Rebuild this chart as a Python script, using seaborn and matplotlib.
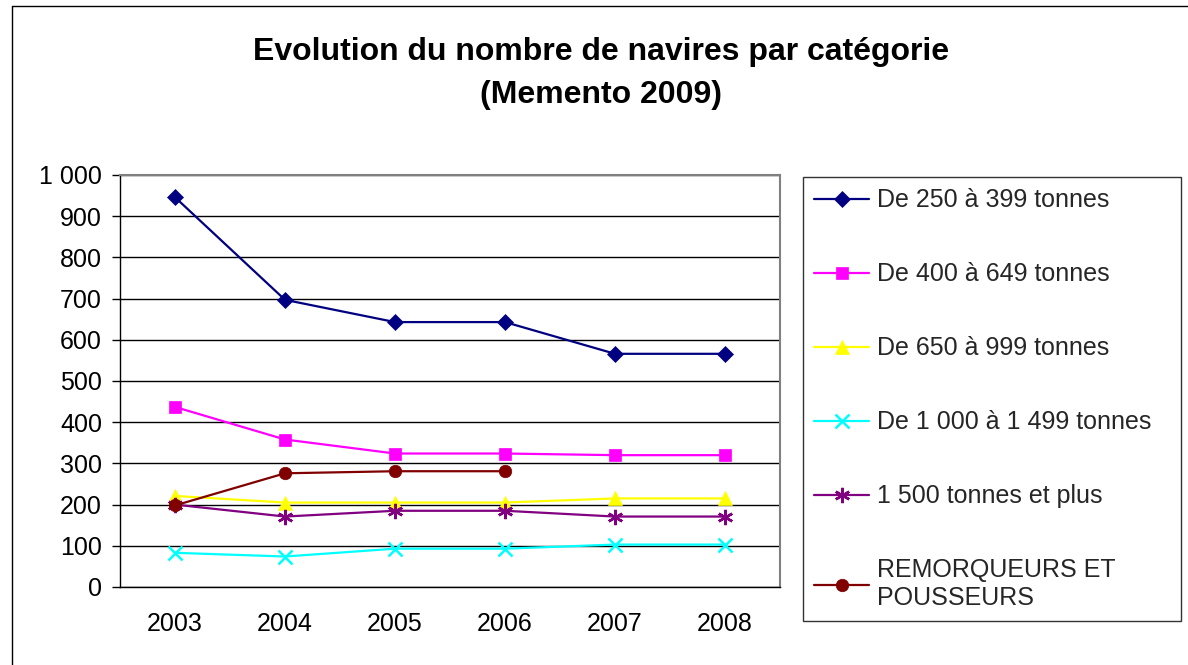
import numpy as np
import pandas as pd
import matplotlib
matplotlib.use("Agg")
import matplotlib.pyplot as plt
from matplotlib.lines import Line2D
from matplotlib.ticker import FuncFormatter, FixedLocator
import seaborn as sns

years = ["2003", "2004", "2005", "2006", "2007", "2008"]
s_250_399 = [946, 697, 643, 643, 566, 566]
s_400_649 = [437, 358, 324, 324, 320, 320]
s_650_999 = [221, 205, 205, 205, 215, 215]
s_1000_1499 = [83, 74, 93, 93, 103, 103]
s_1500_plus = [200, 171, 185, 185, 171, 171]
s_remorqueurs = [198, 276, 281, 281, np.nan, np.nan]

labels = ["De 250 à 399 tonnes", "De 400 à 649 tonnes", "De 650 à 999 tonnes",
          "De 1 000 à 1 499 tonnes", "1 500 tonnes et plus",
          "REMORQUEURS ET\nPOUSSEURS"]
series = [s_250_399, s_400_649, s_650_999, s_1000_1499, s_1500_plus, s_remorqueurs]
colors = ["#000080", "#FF00FF", "#FFFF00", "#00FFFF", "#800080", "#800000"]
markers = ["D", "s", "^", "x", (6, 2, 0), "o"]
msizes = [8, 8.5, 10, 10, 11, 9]

sns.set_theme(style="white")
plt.rcParams['font.family'] = ['Liberation Sans', 'DejaVu Sans']

fig = plt.figure(figsize=(11.88, 6.65), dpi=100)
ax = fig.add_axes([120/1188, 1-587/665, 660/1188, (587-175)/665])

xs = np.arange(len(years))
for vals, lab, col, mk, ms in zip(series, labels, colors, markers, msizes):
    df = pd.DataFrame({"x": xs, "y": vals}).dropna()
    sns.lineplot(data=df, x="x", y="y", ax=ax, color=col, marker=mk,
                 markersize=ms, markeredgecolor=col, markerfacecolor=col,
                 markeredgewidth=1.8 if mk in ("x", (6, 2, 0)) else 0.5,
                 linewidth=1.6, label=lab, legend=False)

FS = 18
ax.set_xlim(-0.5, 5.5)
ax.set_ylim(0, 1000)
ax.set_yticks(np.arange(0, 1001, 100))
ax.yaxis.set_major_formatter(FuncFormatter(lambda v, p: f"{int(v):,}".replace(",", " ")))
ax.set_xticks(xs)
ax.set_xticklabels(years)
ax.xaxis.set_minor_locator(FixedLocator(np.arange(-0.5, 6, 1)))
ax.tick_params(axis="x", which="major", length=0, pad=18, labelsize=FS, colors="black")
ax.tick_params(axis="x", which="minor", length=6, width=1, color="black", direction="out")
ax.tick_params(axis="y", length=6, width=1, color="black", direction="out", left=True,
               labelsize=FS, pad=7, labelcolor="black")
ax.set_xlabel("")
ax.set_ylabel("")
ax.grid(axis="y", color="black", linewidth=1)
ax.grid(axis="x", visible=False)
ax.set_axisbelow(True)
for side in ["top", "right"]:
    ax.spines[side].set_color("#808080")
    ax.spines[side].set_linewidth(1.5)
for side in ["left", "bottom"]:
    ax.spines[side].set_color("black")
    ax.spines[side].set_linewidth(1)

h, l = ax.get_legend_handles_labels()
leg = fig.legend(h, l, loc="upper left",
                 bbox_to_anchor=(803/1188, 0, 378/1188, 1-177/665), mode="expand",
                 frameon=True, fontsize=FS, labelspacing=2.0, handlelength=2.2,
                 handletextpad=0.3, borderpad=0.45, fancybox=False, borderaxespad=0)
leg.get_frame().set_edgecolor("black")
leg.get_frame().set_linewidth(1)

fig.text(601/1188, 1-52/665, "Evolution du nombre de navires par catégorie",
         ha="center", va="center", fontsize=23, fontweight="bold", color="black")
fig.text(601/1188, 1-95/665, "(Memento 2009)",
         ha="center", va="center", fontsize=23, fontweight="bold", color="black")

fig.add_artist(Line2D([12/1188, 12/1188], [0, 1-6/665], transform=fig.transFigure,
                      color="black", linewidth=1))
fig.add_artist(Line2D([12/1188, 1], [1-6/665, 1-6/665], transform=fig.transFigure,
                      color="black", linewidth=1))

fig.savefig("out.png", dpi=100)
